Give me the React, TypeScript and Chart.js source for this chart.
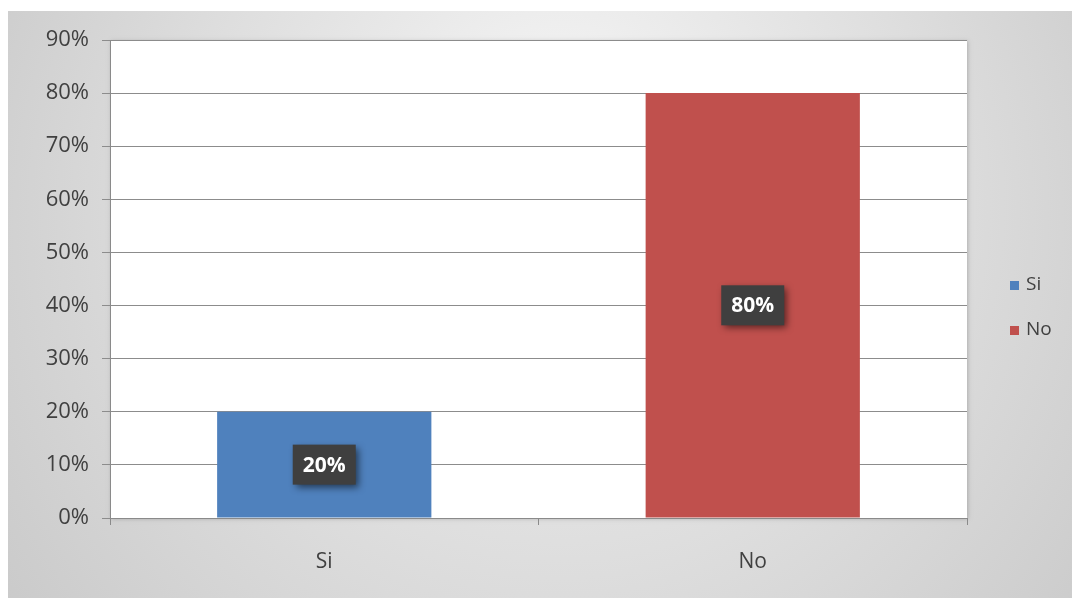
import React, { useEffect, useRef } from "react";
import { Chart, registerables } from "chart.js";

Chart.register(...registerables);

const categories = ["Si", "No"];
const values = [20, 80];
const barColors = ["#4F81BD", "#C0504D"];
const yTicks = [0, 10, 20, 30, 40, 50, 60, 70, 80, 90];
const legendLabels = ["Si", "No"];

const FONT = "'Open Sans', 'Noto Sans', sans-serif";

const backgroundPlugin = {
  id: "bgPanel",
  beforeDraw(chart: any) {
    const { ctx, width, height, chartArea } = chart;
    ctx.save();
    ctx.fillStyle = "#ffffff";
    ctx.fillRect(0, 0, width, height);
    const g = ctx.createRadialGradient(560, 120, 20, 560, 260, 720);
    g.addColorStop(0, "#f4f4f4");
    g.addColorStop(0.5, "#dedede");
    g.addColorStop(1, "#c6c6c6");
    ctx.fillStyle = g;
    ctx.fillRect(8, 11, width - 8, height - 11);
    ctx.shadowColor = "rgba(0,0,0,0.2)";
    ctx.shadowBlur = 4;
    ctx.shadowOffsetX = 1;
    ctx.shadowOffsetY = 1;
    ctx.fillStyle = "#ffffff";
    ctx.fillRect(chartArea.left, chartArea.top, chartArea.right - chartArea.left, chartArea.bottom - chartArea.top);
    ctx.restore();
  },
  afterDatasetsDraw(chart: any) {
    const { ctx } = chart;
    const meta = chart.getDatasetMeta(0);
    ctx.save();
    meta.data.forEach((bar: any, i: number) => {
      const cx = bar.x;
      const cy = (bar.y + bar.base) / 2;
      const w = 63;
      const h = 40;
      ctx.save();
      ctx.shadowColor = "rgba(0,0,0,0.55)";
      ctx.shadowBlur = 7;
      ctx.shadowOffsetX = 3;
      ctx.shadowOffsetY = 3;
      ctx.fillStyle = "#3f3f3f";
      ctx.fillRect(cx - w / 2, cy - h / 2, w, h);
      ctx.restore();
      ctx.fillStyle = "#ffffff";
      ctx.font = `bold 21px ${FONT}`;
      ctx.textAlign = "center";
      ctx.textBaseline = "middle";
      ctx.fillText(values[i] + "%", cx, cy + 1);
    });
    // legend
    const ys = [285, 330];
    legendLabels.forEach((lab, i) => {
      ctx.fillStyle = barColors[i];
      ctx.fillRect(1010, ys[i] - 4, 9, 9);
      ctx.fillStyle = "#404040";
      ctx.font = `19px ${FONT}`;
      ctx.textAlign = "left";
      ctx.textBaseline = "middle";
      ctx.fillText(lab, 1026, ys[i]);
    });
    ctx.restore();
  },
};

export default function App() {
  const ref = useRef<HTMLCanvasElement>(null);
  useEffect(() => {
    if (!ref.current) return;
    const chart = new Chart(ref.current, {
      type: "bar",
      data: {
        labels: categories,
        datasets: [
          {
            data: values,
            backgroundColor: barColors,
            borderWidth: 0,
            categoryPercentage: 1,
            barPercentage: 0.5,
          },
        ],
      },
      options: {
        animation: false,
        responsive: false,
        maintainAspectRatio: false,
        layout: { padding: { top: 40, right: 105, left: 0, bottom: 0 } },
        plugins: { legend: { display: false }, tooltip: { enabled: false } },
        scales: {
          x: {
            grid: {
              offset: true,
              drawOnChartArea: false,
              drawTicks: true,
              tickLength: 7,
              color: "#8a8a8a",
            },
            border: { color: "#8a8a8a" },
            ticks: {
              color: "#404040",
              font: { family: FONT, size: 21 },
              padding: 24,
            },
            afterFit(scale: any) {
              scale.height = 80;
            },
          },
          y: {
            min: 0,
            max: 90,
            afterBuildTicks(scale: any) {
              scale.ticks = yTicks.map((v) => ({ value: v }));
            },
            grid: {
              color: "#8c8c8c",
              tickLength: 8,
            },
            border: { color: "#8a8a8a" },
            ticks: {
              color: "#404040",
              font: { family: FONT, size: 22 },
              padding: 13,
              callback: (v: any) => v + "%",
            },
            afterFit(scale: any) {
              scale.width = 110;
            },
          },
        },
      },
      plugins: [backgroundPlugin],
    });
    return () => chart.destroy();
  }, []);
  return (
    <div style={{ position: "fixed", left: 0, top: 0, width: 1072, height: 598 }}>
      <canvas ref={ref} width={1072} height={598} style={{ display: "block" }} />
    </div>
  );
}
